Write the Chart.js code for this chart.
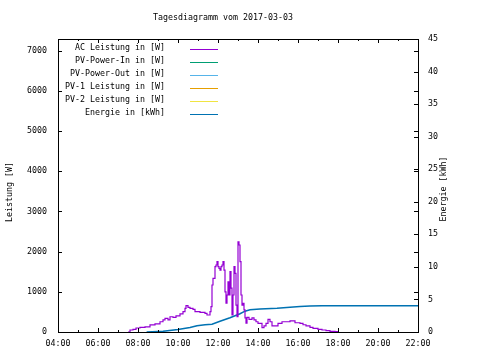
<!DOCTYPE html>
<html>
<head>
<meta charset="utf-8">
<title>Tagesdiagramm</title>
<script src="https://cdn.jsdelivr.net/npm/chart.js@4/dist/chart.umd.min.js"></script>
<style>
  html, body { margin: 0; padding: 0; background: #fff; }
  #wrap { width: 480px; height: 360px; }
</style>
</head>
<body>
<div id="wrap"><canvas id="tagesChart" width="480" height="360"></canvas></div>
<script>
// Uhrzeit in Stunden (x) und AC Leistung in W
const stundenAC = [7.5, 7.6, 7.75, 7.9, 8.1, 8.35, 8.6, 8.85, 9.1, 9.25, 9.35, 9.5, 9.6, 9.75, 9.9,
  10.1, 10.25, 10.35, 10.4, 10.5, 10.6, 10.75, 10.85, 11.0, 11.1, 11.35, 11.45, 11.6, 11.65, 11.7,
  11.75, 11.85, 11.9, 11.95, 12.0, 12.05, 12.1, 12.15, 12.2, 12.25, 12.3, 12.35, 12.4, 12.45, 12.5,
  12.55, 12.6, 12.65, 12.7, 12.75, 12.8, 12.85, 12.9, 12.95, 13.0, 13.05, 13.1, 13.15, 13.2, 13.25,
  13.3, 13.35, 13.4, 13.45, 13.55, 13.7, 13.8, 13.9, 14.0, 14.1, 14.2, 14.3, 14.4, 14.5, 14.6, 14.7,
  14.85, 15.0, 15.2, 15.4, 15.6, 15.75, 15.85, 16.1, 16.25, 16.4, 16.6, 16.75, 17.0, 17.2, 17.4,
  17.6, 17.85, 18.0];
const wattAC = [0, 50, 67, 100, 117, 130, 175, 200, 255, 300, 340, 300, 380, 365, 400,
  450, 505, 590, 655, 615, 590, 565, 509, 505, 490, 465, 423, 505, 630, 1170,
  1335, 1625, 1667, 1750, 1625, 1585, 1540, 1625, 1667, 1750, 1540, 1000, 720, 920, 1250,
  920, 1500, 1090, 423, 920, 1625, 1460, 670, 380, 2240, 2165, 1750, 920, 670, 710,
  550, 350, 220, 365, 315, 350, 300, 255, 215, 215, 107, 150, 215, 315, 255, 150,
  150, 215, 255, 255, 275, 275, 230, 215, 180, 150, 117, 92, 67, 50, 32,
  17, 8, 0];

// Energie in kWh (kumuliert)
const stundenEnergie = [8.43, 9.25, 10.0, 10.6, 10.95, 11.35, 11.7, 12.1, 12.6, 13.1, 13.35, 13.6,
  14.1, 14.95, 15.6, 16.1, 16.6, 17.2, 22.0];
const kwhEnergie = [0, 0.1, 0.4, 0.7, 0.95, 1.1, 1.2, 1.65, 2.2, 2.8, 3.2, 3.4,
  3.55, 3.65, 3.8, 3.9, 3.98, 4.05, 4.05];

// Achsen und Tick-Beschriftungen
const xMin = 4, xMax = 22;
const leistungMax = 7290, energieMax = 45;
const xTicks = [4, 6, 8, 10, 12, 14, 16, 18, 20, 22];
const leistungTicks = [0, 1000, 2000, 3000, 4000, 5000, 6000, 7000];
const energieTicks = [0, 5, 10, 15, 20, 25, 30, 35, 40, 45];

const schrift = '8.3px "DejaVu Sans Mono", "Liberation Mono", monospace';
const tickFont = { family: '"DejaVu Sans Mono"', size: 8.3 };

function punkte(xs, ys) {
    return xs.map((x, i) => ({ x: x, y: ys[i] }));
}

function uhrzeit(v) {
    return (v < 10 ? "0" : "") + v + ":00";
}

function feste(werte) {
    return s => { s.ticks = werte.map(v => ({ value: v })); };
}

// Rahmen, Ticks nach innen, Titel und Legende im gnuplot-Stil
const gnuplotStil = {
    id: "gnuplotStil",
    afterDraw(chart) {
        const ctx = chart.ctx;
        const a = chart.chartArea;
        const sx = chart.scales.x, sy = chart.scales.y, sy2 = chart.scales.y2;
        ctx.save();
        ctx.strokeStyle = "#000";
        ctx.lineWidth = 1;

        // Rahmen
        ctx.strokeRect(Math.round(a.left) + 0.5, Math.round(a.top) + 0.5,
            Math.round(a.right - a.left), Math.round(a.bottom - a.top));

        ctx.beginPath();
        // x-Ticks (unten und oben)
        for (let h = xMin; h <= xMax; h++) {
            const px = Math.round(sx.getPixelForValue(h)) + 0.5;
            const len = h % 2 === 0 ? 4 : 2;
            ctx.moveTo(px, a.bottom); ctx.lineTo(px, a.bottom - len);
            ctx.moveTo(px, a.top); ctx.lineTo(px, a.top + len);
        }
        // y-Ticks links, gespiegelt rechts
        leistungTicks.forEach(w => {
            const py = Math.round(sy.getPixelForValue(w)) + 0.5;
            ctx.moveTo(a.left, py); ctx.lineTo(a.left + 4, py);
            ctx.moveTo(a.right, py); ctx.lineTo(a.right - 4, py);
        });
        // y2-Ticks rechts
        energieTicks.forEach(e => {
            const py = Math.round(sy2.getPixelForValue(e)) + 0.5;
            ctx.moveTo(a.right, py); ctx.lineTo(a.right - 4, py);
        });
        ctx.stroke();

        ctx.fillStyle = "#000";
        ctx.font = schrift;

        // Titel
        ctx.textAlign = "center";
        ctx.textBaseline = "middle";
        ctx.fillText("Tagesdiagramm vom 2017-03-03", 223, 17.5);

        // Achsentitel
        ctx.save();
        ctx.translate(10, 192);
        ctx.rotate(-Math.PI / 2);
        ctx.fillText("Leistung [W]", 0, 0);
        ctx.restore();
        ctx.save();
        ctx.translate(444, 189);
        ctx.rotate(-Math.PI / 2);
        ctx.fillText("Energie [kWh]", 0, 0);
        ctx.restore();

        // Legende
        ctx.textAlign = "right";
        ctx.textBaseline = "alphabetic";
        chart.data.datasets.forEach((ds, i) => {
            const ly = 49 + 13 * i;
            ctx.fillStyle = "#000";
            ctx.fillText(ds.label, 165, ly + 1);
            ctx.strokeStyle = ds.borderColor;
            ctx.lineWidth = 1;
            ctx.beginPath();
            ctx.moveTo(190, ly + 0.5);
            ctx.lineTo(218, ly + 0.5);
            ctx.stroke();
        });
        ctx.restore();
    }
};

const ctx = document.getElementById("tagesChart").getContext("2d");

new Chart(ctx, {
    type: "line",
    data: {
        datasets: [
            { label: "AC Leistung in [W]", data: punkte(stundenAC, wattAC), borderColor: "#9400d3", borderWidth: 1.2, yAxisID: "y", stepped: true },
            { label: "PV-Power-In in [W]", data: [], borderColor: "#009e73", borderWidth: 1, yAxisID: "y" },
            { label: "PV-Power-Out in [W]", data: [], borderColor: "#56b4e9", borderWidth: 1, yAxisID: "y" },
            { label: "PV-1 Leistung in [W]", data: [], borderColor: "#e69f00", borderWidth: 1, yAxisID: "y" },
            { label: "PV-2 Leistung in [W]", data: [], borderColor: "#f0e442", borderWidth: 1, yAxisID: "y" },
            { label: "Energie in [kWh]", data: punkte(stundenEnergie, kwhEnergie), borderColor: "#0072b2", borderWidth: 1.5, yAxisID: "y2" }
        ]
    },
    options: {
        responsive: false,
        animation: false,
        devicePixelRatio: 1,
        elements: { point: { radius: 0 }, line: { tension: 0 } },
        layout: { padding: { top: 39, left: 0, right: 0, bottom: 0 } },
        plugins: {
            legend: { display: false },
            title: { display: false },
            tooltip: { enabled: false }
        },
        scales: {
            x: {
                type: "linear",
                position: "bottom",
                min: xMin,
                max: xMax,
                grid: { display: false, drawTicks: false },
                border: { display: true, color: "#000", width: 1 },
                afterBuildTicks: feste(xTicks),
                ticks: {
                    color: "#000",
                    font: tickFont,
                    padding: 7,
                    maxRotation: 0,
                    autoSkip: false,
                    callback: v => uhrzeit(v)
                },
                afterFit: s => { s.height = 28; }
            },
            y: {
                type: "linear",
                position: "left",
                min: 0,
                max: leistungMax,
                grid: { display: false, drawTicks: false },
                border: { display: true, color: "#000", width: 1 },
                afterBuildTicks: feste(leistungTicks),
                ticks: {
                    color: "#000",
                    font: tickFont,
                    padding: 11,
                    autoSkip: false,
                    callback: v => String(v)
                },
                afterFit: s => { s.width = 58; }
            },
            y2: {
                type: "linear",
                position: "right",
                min: 0,
                max: energieMax,
                grid: { display: false, drawTicks: false },
                border: { display: true, color: "#000", width: 1 },
                afterBuildTicks: feste(energieTicks),
                ticks: {
                    color: "#000",
                    font: tickFont,
                    padding: 10,
                    autoSkip: false,
                    callback: v => String(v)
                },
                afterFit: s => { s.width = 62; }
            }
        }
    },
    plugins: [gnuplotStil]
});
</script>
</body>
</html>
